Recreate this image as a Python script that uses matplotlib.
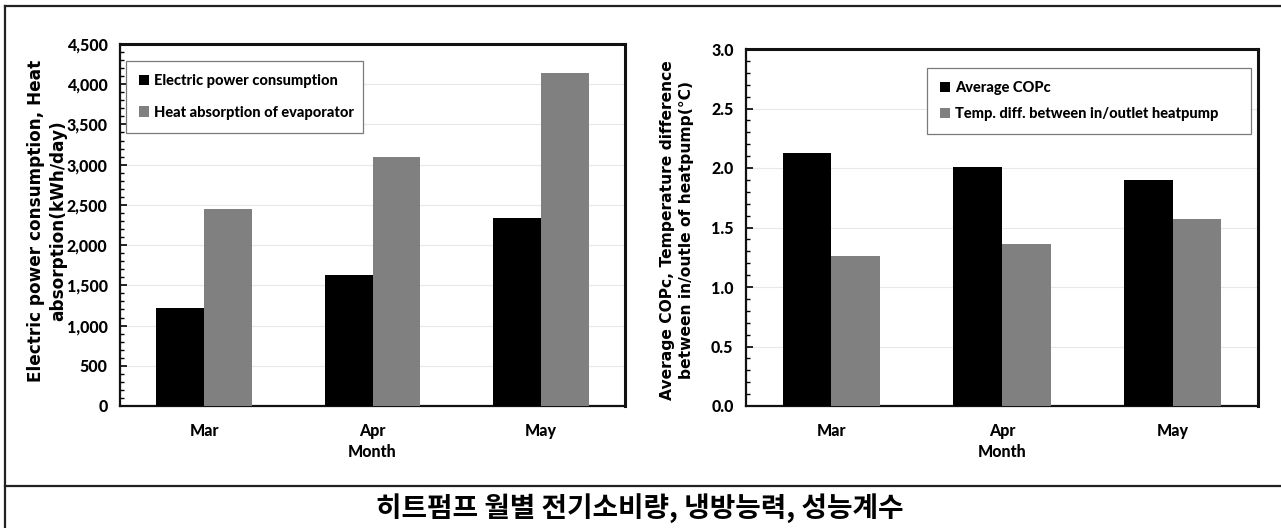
import matplotlib
matplotlib.use("Agg")
import matplotlib.pyplot as plt
from matplotlib.ticker import MultipleLocator, FuncFormatter
from matplotlib.lines import Line2D
import numpy as np

# ---- data -------------------------------------------------------------
months = ["Mar", "Apr", "May"]
power_use = [1220, 1630, 2340]          # kWh/day
heat_absorb = [2450, 3100, 4140]        # kWh/day
cop_avg = [2.13, 2.01, 1.90]
temp_diff = [1.26, 1.36, 1.57]          # degC

left_labels = ["Electric power consumption", "Heat absorption of evaporator"]
right_labels = ["Average COPc", "Temp. diff. between in/outlet heatpump"]
left_ylabel = "Electric power consumption, Heat\nabsorption(kWh/day)"
right_ylabel = "Average COPc, Temperature difference\nbetween in/outle of heatpump(\u00b0C)"
xlabel = "Month"
caption = "히트펌프 월별 전기소비량, 냉방능력, 성능계수"

# ---- style ------------------------------------------------------------
NARROW = ["Lato", "DejaVu Sans"]
NW = "black"          # heavy weight for the narrow labels
WIDE = ["DejaVu Sans"]
DARK = "#000000"
GREY = "#808080"

W, H = 1281, 528
fig = plt.figure(figsize=(W / 100, H / 100), dpi=100)


def px(x0, y0, x1, y1):
    """Figure-fraction rect from pixel box (top-left origin)."""
    return [x0 / W, 1 - y1 / H, (x1 - x0) / W, (y1 - y0) / H]


def draw_panel(ax, a, b, labels, ymax, major, minor, fmt, legend_box, lspace):
    x = np.arange(len(months))
    w = 0.285
    ax.bar(x - w / 2, a, width=w, color=DARK, label=labels[0], zorder=3)
    ax.bar(x + w / 2, b, width=w, color=GREY, label=labels[1], zorder=3)
    ax.set_xlim(-0.5, len(months) - 0.5)
    ax.set_ylim(0, ymax)
    ax.set_xticks(x)
    ax.set_xticklabels(months, fontfamily=NARROW, fontweight=NW, fontsize=11.5)
    ax.yaxis.set_major_locator(MultipleLocator(major))
    ax.yaxis.set_minor_locator(MultipleLocator(minor))
    ax.yaxis.set_major_formatter(FuncFormatter(fmt))
    for t in ax.get_yticklabels():
        t.set_fontfamily(NARROW)
        t.set_fontweight(NW)
        t.set_fontsize(11.5)
    ax.tick_params(axis="y", which="major", direction="in", length=5, width=1.2, pad=9)
    ax.tick_params(axis="y", which="minor", direction="in", length=3, width=1.0)
    ax.tick_params(axis="x", length=0, pad=12)
    ax.grid(axis="y", color="#e8e8e8", linewidth=0.8, zorder=0)
    for side in ("top", "right"):
        ax.spines[side].set_linewidth(2.2)
    for side in ("left", "bottom"):
        ax.spines[side].set_linewidth(1.6)
    for s in ax.spines.values():
        s.set_color("#111111")
    leg = ax.legend(loc="upper left", bbox_to_anchor=legend_box, bbox_transform=fig.transFigure,
                    mode="expand", prop={"family": NARROW, "weight": NW, "size": 10.5},
                    frameon=True, fancybox=False, edgecolor="#7a7a7a", framealpha=1,
                    handlelength=0.7, handleheight=0.7, handletextpad=0.3,
                    labelspacing=lspace, borderpad=0.9, borderaxespad=0)
    leg.get_frame().set_linewidth(0.9)
    return ax


# left panel
axL = fig.add_axes(px(120, 44, 625, 406))
lb = px(126, 61, 363, 129)
draw_panel(axL, power_use, heat_absorb, left_labels, 4500, 500, 100,
           lambda v, p: f"{int(v):,}", (lb[0], lb[1] + lb[3], lb[2], 0), 1.2)

# right panel
axR = fig.add_axes(px(746, 49, 1258, 406))
rb = px(927, 68, 1251, 120)
draw_panel(axR, cop_avg, temp_diff, right_labels, 3.0, 0.5, 0.1,
           lambda v, p: f"{v:.1f}", (rb[0], rb[1] + rb[3], rb[2], 0), 0.8)

# axis titles
fig.text(47 / W, 1 - 221 / H, left_ylabel, rotation=90, ha="center", va="center",
         multialignment="center", fontfamily=WIDE, fontweight="bold", fontsize=12.2,
         linespacing=1.35)
fig.text(677 / W, 1 - 230 / H, right_ylabel, rotation=90, ha="center", va="center",
         multialignment="center", fontfamily=WIDE, fontweight="bold", fontsize=11.2,
         linespacing=1.35)
for cx in (372, 1002):
    fig.text(cx / W, 1 - 452 / H, xlabel, ha="center", va="center",
             fontfamily=NARROW, fontweight=NW, fontsize=11.5)

# frame around the figure and caption strip
frame_kw = dict(color="#222222", linewidth=1.6, transform=fig.transFigure)
fig.add_artist(Line2D([5 / W, 5 / W], [0, 1 - 6 / H], **frame_kw))
fig.add_artist(Line2D([5 / W, 1], [1 - 6 / H, 1 - 6 / H], **frame_kw))
fig.add_artist(Line2D([5 / W, 1], [1 - 486 / H, 1 - 486 / H], **frame_kw))

fig.text(640 / W, 1 - 508 / H, caption, ha="center", va="center",
         fontfamily=["Noto Sans CJK KR", "DejaVu Sans"], fontweight="bold", fontsize=20)

fig.savefig("out.png", dpi=100)
